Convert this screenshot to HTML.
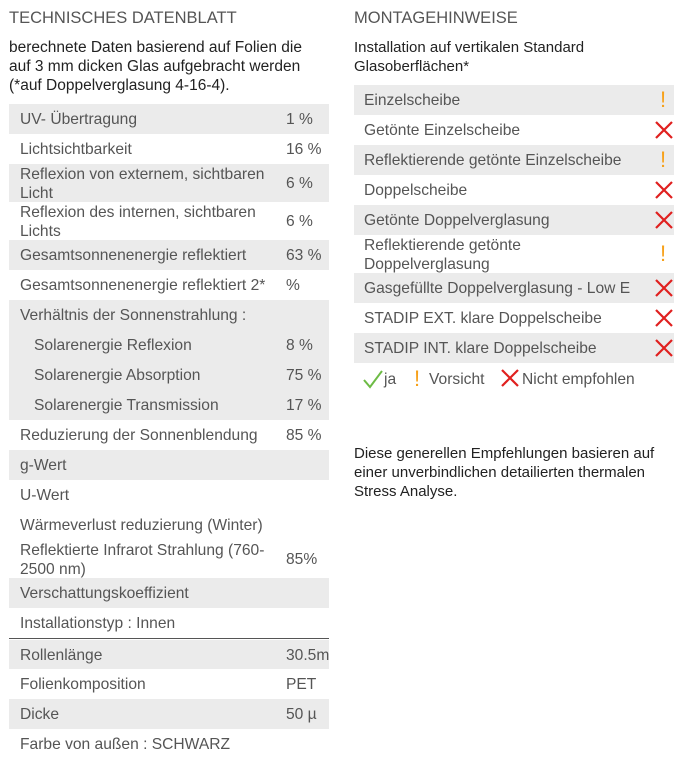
<!DOCTYPE html>
<html><head><meta charset="utf-8"><style>
body{margin:0;width:686px;height:763px;background:#fff;font-family:"Liberation Sans",Arial,sans-serif;position:relative;overflow:hidden}
.a{position:absolute}
.t{font-size:16.5px;color:#555;top:9px}
.p{font-size:15.5px;color:#222;line-height:19px}
.r{position:absolute;left:9px;width:320px;font-size:15.6px;color:#555;line-height:19px}
.g{background:#ebebeb}
.r .l{position:absolute;left:11px;top:50%;transform:translateY(-48%);width:255px}
.r .v{position:absolute;left:277px;top:50%;transform:translateY(-48%);white-space:nowrap}
.q{position:absolute;left:354px;width:320px;font-size:15.6px;color:#555;line-height:19px}
.q .l{position:absolute;left:10px;top:50%;transform:translateY(-48%);width:270px}
.q .i{position:absolute;right:0;top:50%;transform:translateY(-50%);width:20px;height:20px}
.ex{color:#f7a11a;font-size:22px;line-height:20px;text-align:center;right:4px!important;width:14px!important}
</style></head><body>
<div class="a t" style="left:9px">TECHNISCHES DATENBLATT</div>
<div class="a p" style="left:9px;top:38px">berechnete Daten basierend auf Folien die<br>auf 3 mm dicken Glas aufgebracht werden<br>(*auf Doppelverglasung 4-16-4).</div>

<div class="r g" style="top:104px;height:30px"><span class="l">UV- Übertragung</span><span class="v">1 %</span></div>
<div class="r" style="top:134px;height:30px"><span class="l">Lichtsichtbarkeit</span><span class="v">16 %</span></div>
<div class="r g" style="top:164px;height:38px"><span class="l">Reflexion von externem, sichtbaren Licht</span><span class="v">6 %</span></div>
<div class="r" style="top:202px;height:38px"><span class="l">Reflexion des internen, sichtbaren Lichts</span><span class="v">6 %</span></div>
<div class="r g" style="top:240px;height:30px"><span class="l">Gesamtsonnenenergie reflektiert</span><span class="v">63 %</span></div>
<div class="r" style="top:270px;height:30px"><span class="l">Gesamtsonnenenergie reflektiert 2*</span><span class="v">%</span></div>
<div class="r g" style="top:300px;height:120px"></div>
<div class="r" style="top:300px;height:30px"><span class="l">Verhältnis der Sonnenstrahlung :</span></div>
<div class="r" style="top:330px;height:30px"><span class="l" style="left:25px">Solarenergie Reflexion</span><span class="v">8 %</span></div>
<div class="r" style="top:360px;height:30px"><span class="l" style="left:25px">Solarenergie Absorption</span><span class="v">75 %</span></div>
<div class="r" style="top:390px;height:30px"><span class="l" style="left:25px">Solarenergie Transmission</span><span class="v">17 %</span></div>
<div class="r" style="top:420px;height:30px"><span class="l">Reduzierung der Sonnenblendung</span><span class="v">85 %</span></div>
<div class="r g" style="top:450px;height:30px"><span class="l">g-Wert</span></div>
<div class="r" style="top:480px;height:30px"><span class="l">U-Wert</span></div>
<div class="r" style="top:510px;height:30px"><span class="l">Wärmeverlust reduzierung (Winter)</span></div>
<div class="r" style="top:540px;height:38px"><span class="l">Reflektierte Infrarot Strahlung (760-2500 nm)</span><span class="v">85%</span></div>
<div class="r g" style="top:578px;height:30px"><span class="l">Verschattungskoeffizient</span></div>
<div class="r" style="top:608px;height:30px;border-bottom:1px solid #555"><span class="l">Installationstyp : Innen</span></div>
<div class="r g" style="top:640px;height:29px"><span class="l">Rollenlänge</span><span class="v">30.5m</span></div>
<div class="r" style="top:669px;height:30px"><span class="l">Folienkomposition</span><span class="v">PET</span></div>
<div class="r g" style="top:699px;height:30px"><span class="l">Dicke</span><span class="v">50 µ</span></div>
<div class="r" style="top:729px;height:30px"><span class="l">Farbe von außen : SCHWARZ</span></div>

<div class="a t" style="left:354px">MONTAGEHINWEISE</div>
<div class="a p" style="left:354px;top:38px;font-size:15px">Installation auf vertikalen Standard<br>Glasoberflächen*</div>

<svg width="0" height="0" style="position:absolute"><defs><g id="x"><path d="M2 2L18 18M18 2L2 18" stroke="#e0201f" stroke-width="2.2"/></g></defs></svg>
<div class="q g" style="top:85px;height:30px"><span class="l">Einzelscheibe</span><span class="i ex">!</span></div>
<div class="q" style="top:115px;height:30px"><span class="l">Getönte Einzelscheibe</span><svg class="i" viewBox="0 0 20 20"><use href="#x"/></svg></div>
<div class="q g" style="top:145px;height:30px"><span class="l">Reflektierende getönte Einzelscheibe</span><span class="i ex">!</span></div>
<div class="q" style="top:175px;height:30px"><span class="l">Doppelscheibe</span><svg class="i" viewBox="0 0 20 20"><use href="#x"/></svg></div>
<div class="q g" style="top:205px;height:30px"><span class="l">Getönte Doppelverglasung</span><svg class="i" viewBox="0 0 20 20"><use href="#x"/></svg></div>
<div class="q" style="top:235px;height:38px"><span class="l" style="width:200px">Reflektierende getönte Doppelverglasung</span><span class="i ex">!</span></div>
<div class="q g" style="top:273px;height:30px"><span class="l">Gasgefüllte Doppelverglasung - Low E</span><svg class="i" viewBox="0 0 20 20"><use href="#x"/></svg></div>
<div class="q" style="top:303px;height:30px"><span class="l">STADIP EXT. klare Doppelscheibe</span><svg class="i" viewBox="0 0 20 20"><use href="#x"/></svg></div>
<div class="q g" style="top:333px;height:30px"><span class="l">STADIP INT. klare Doppelscheibe</span><svg class="i" viewBox="0 0 20 20"><use href="#x"/></svg></div>

<svg class="a" style="left:363px;top:369px" width="20" height="20" viewBox="0 0 20 20"><path d="M1 11L7 18L19 2" stroke="#6dbb45" stroke-width="2" fill="none"/></svg>
<div class="a" style="left:384px;top:371px;font-size:15.6px;color:#555">ja</div>
<div class="a" style="left:414px;top:366px;font-size:22px;color:#f7a11a">!</div>
<div class="a" style="left:429px;top:371px;font-size:15.6px;color:#555">Vorsicht</div>
<svg class="a" style="left:500px;top:368px" width="20" height="20" viewBox="0 0 20 20"><use href="#x"/></svg>
<div class="a" style="left:522px;top:371px;font-size:15.6px;color:#555">Nicht empfohlen</div>

<div class="a p" style="left:354px;top:444px;font-size:15px">Diese generellen Empfehlungen basieren auf<br>einer unverbindlichen detailierten thermalen<br>Stress Analyse.</div>
</body></html>
